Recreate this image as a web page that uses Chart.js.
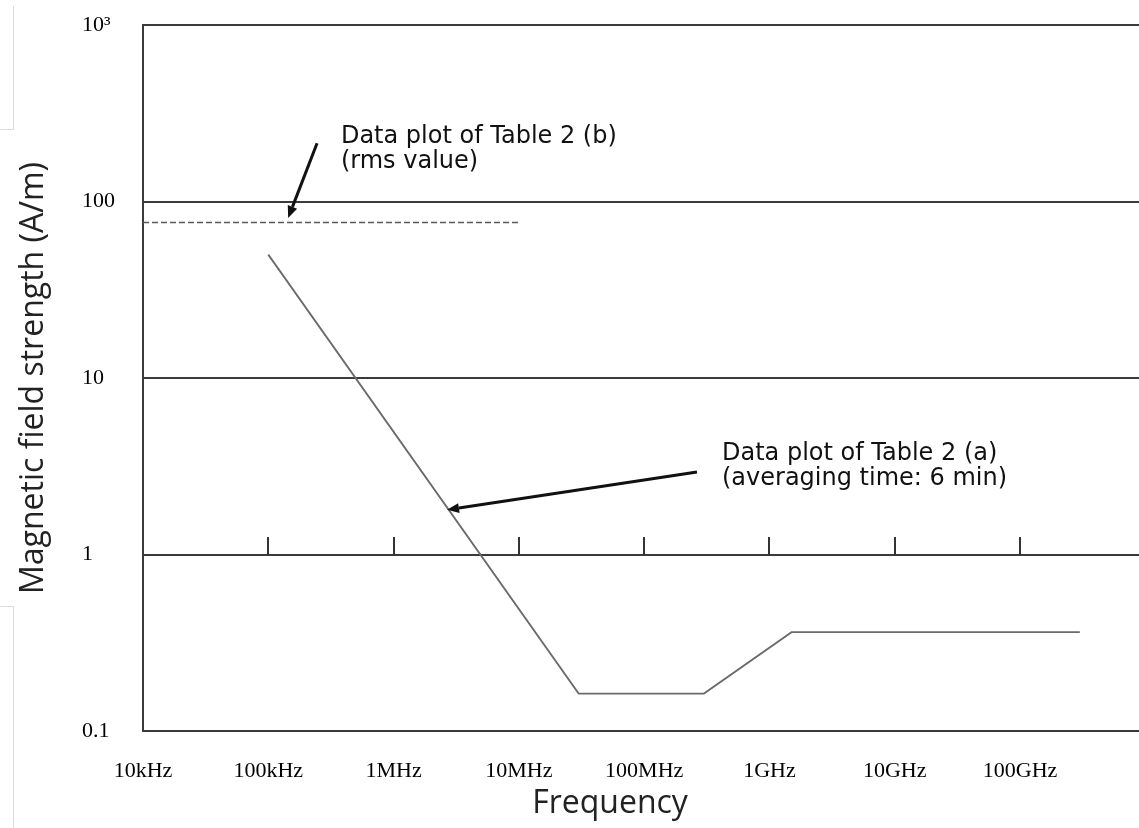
<!DOCTYPE html>
<html><head><meta charset="utf-8">
<script src="https://cdn.jsdelivr.net/npm/chart.js@4.4.1/dist/chart.umd.min.js"></script>
<style>
html,body{margin:0;padding:0;background:#fff;}
#wrap{position:relative;width:1139px;height:828px;overflow:hidden;}
canvas{display:block;}
.edge{position:absolute;border-color:#dcdcdc;border-style:solid;border-width:0;}
</style></head><body>
<div id="wrap">
<canvas id="c" width="1139" height="828"></canvas>
<div class="edge" style="left:0;top:6px;width:13px;height:123px;border-right-width:1px;border-bottom-width:1px;"></div>
<div class="edge" style="left:0;top:606px;width:13px;height:222px;border-right-width:1px;border-top-width:1px;"></div>
</div>
<script>
// ---- data ----
const freqA = [1e5, 3e7, 3e8, 1.5e9, 3e11];          // Hz, Table 2 (a)
const fieldA = [50, 0.163, 0.163, 0.363, 0.363];      // A/m
const freqB = [1e4, 1e7];                             // Hz, Table 2 (b)
const fieldB = [76, 76];                              // A/m
const xTickValues = [1e4, 1e5, 1e6, 1e7, 1e8, 1e9, 1e10, 1e11];
const xTickLabels = ['10kHz', '100kHz', '1MHz', '10MHz', '100MHz', '1GHz', '10GHz', '100GHz'];
const yTickValues = [0.1, 1, 10, 100, 1000];
const yTickLabels = ['0.1', '1', '10', '100', '10\u00B3'];
const noteTexts = [['Data plot of Table 2 (b)', '(rms value)'], ['Data plot of Table 2 (a)', '(averaging time: 6 min)']];
const noteAnchors = [[3.8e5, 214], [4.18e8, 3.43]];     // (frequency, field) of first text line start
const arrowTails = [[2.45e5, 214], [2.64e8, 2.93]];
const arrowHeads = [[1.44e5, 80.6], [2.67e6, 1.79]];

const overlay = {
  id: 'overlay',
  afterDatasetsDraw(chart) {
    const {ctx, scales: {x, y}} = chart;
    ctx.save();
    // short tick marks standing on the 1 A/m line
    const y1 = Math.round(y.getPixelForValue(1));
    ctx.strokeStyle = '#333'; ctx.lineWidth = 2;
    xTickValues.slice(1).forEach(v => {
      const px = Math.round(x.getPixelForValue(v));
      ctx.beginPath(); ctx.moveTo(px, y1); ctx.lineTo(px, y1 - 18); ctx.stroke();
    });
    // arrows
    ctx.strokeStyle = '#111'; ctx.fillStyle = '#111'; ctx.lineWidth = 3;
    arrowTails.forEach((t, i) => {
      const x0 = x.getPixelForValue(t[0]), y0 = y.getPixelForValue(t[1]);
      const x1 = x.getPixelForValue(arrowHeads[i][0]), y2 = y.getPixelForValue(arrowHeads[i][1]);
      const ang = Math.atan2(y2 - y0, x1 - x0);
      const hl = 12, hw = 5;
      const bx = x1 - hl * Math.cos(ang), by = y2 - hl * Math.sin(ang);
      ctx.beginPath(); ctx.moveTo(x0, y0); ctx.lineTo(bx, by); ctx.stroke();
      ctx.beginPath();
      ctx.moveTo(x1, y2);
      ctx.lineTo(bx + hw * Math.sin(ang), by - hw * Math.cos(ang));
      ctx.lineTo(bx - hw * Math.sin(ang), by + hw * Math.cos(ang));
      ctx.closePath(); ctx.fill();
    });
    // notes
    ctx.font = '24px "DejaVu Sans"'; ctx.fillStyle = '#111';
    ctx.textAlign = 'left'; ctx.textBaseline = 'alphabetic';
    noteTexts.forEach((lines, i) => {
      const px = x.getPixelForValue(noteAnchors[i][0]);
      const py = y.getPixelForValue(noteAnchors[i][1]);
      lines.forEach((t, j) => ctx.fillText(t, px, py + j * 25));
    });
    // x-axis title
    ctx.font = '32px "Open Sans"'; ctx.textAlign = 'center'; ctx.textBaseline = 'middle'; ctx.fillStyle = '#222';
    ctx.fillText('Frequency', 610, 804);
    ctx.restore();
  }
};

function build() {
  new Chart(document.getElementById('c'), {
    type: 'line',
    data: {
      datasets: [
        {
          label: 'Table 2 (a)', xAxisID: 'x', yAxisID: 'y',
          data: freqA.map((f, i) => ({x: f, y: fieldA[i]})),
          borderColor: '#6a6a6a', borderWidth: 1.8, pointRadius: 0, tension: 0, fill: false
        },
        {
          label: 'Table 2 (b)', xAxisID: 'x', yAxisID: 'y',
          data: freqB.map((f, i) => ({x: f, y: fieldB[i]})),
          borderColor: '#5a5a5a', borderWidth: 1.6, borderDash: [6, 3], pointRadius: 0, tension: 0, fill: false
        }
      ]
    },
    options: {
      responsive: false,
      animation: false,
      devicePixelRatio: 1,
      layout: {padding: {top: 25, right: 0, left: 0, bottom: 0}},
      plugins: {legend: {display: false}, tooltip: {enabled: false}},
      scales: {
        x: {
          type: 'logarithmic',
          min: 1e4, max: 8.9e11,
          afterBuildTicks: s => { s.ticks = xTickValues.map(v => ({value: v})); },
          afterFit: s => { s.height = 97; },
          grid: {display: false, drawTicks: false},
          border: {display: false},
          ticks: {
            autoSkip: false, maxRotation: 0, padding: 27, color: '#000',
            font: {family: 'Liberation Serif', size: 22},
            callback: (v, i) => xTickLabels[i]
          }
        },
        y: {
          type: 'logarithmic', position: 'left', weight: 0,
          min: 0.1, max: 1000,
          afterBuildTicks: s => { s.ticks = yTickValues.map(v => ({value: v})); },
          afterFit: s => { s.width = 61; },
          grid: {color: '#3a3a3a', lineWidth: 2, drawTicks: false},
          border: {display: true, color: '#3a3a3a', width: 2},
          ticks: {
            crossAlign: 'far', color: '#000',
            font: {family: 'Liberation Serif', size: 22},
            callback: (v, i) => yTickLabels[i]
          }
        },
        yt: {
          type: 'linear', position: 'left', weight: 1,
          grid: {display: false}, border: {display: false}, ticks: {display: false},
          afterFit: s => { s.width = 82; },
          title: {display: true, text: 'Magnetic field strength (A/m)', color: '#222',
                  font: {family: 'Open Sans', size: 32}, padding: {top: 15, bottom: 0}}
        }
      }
    },
    plugins: [overlay]
  });
}
if (document.fonts && document.fonts.load) {
  Promise.all([
    document.fonts.load('24px "DejaVu Sans"'),
    document.fonts.load('32px "Open Sans"'),
    document.fonts.load('22px "Liberation Serif"')
  ]).then(build, build);
} else { build(); }
</script>
</body></html>
